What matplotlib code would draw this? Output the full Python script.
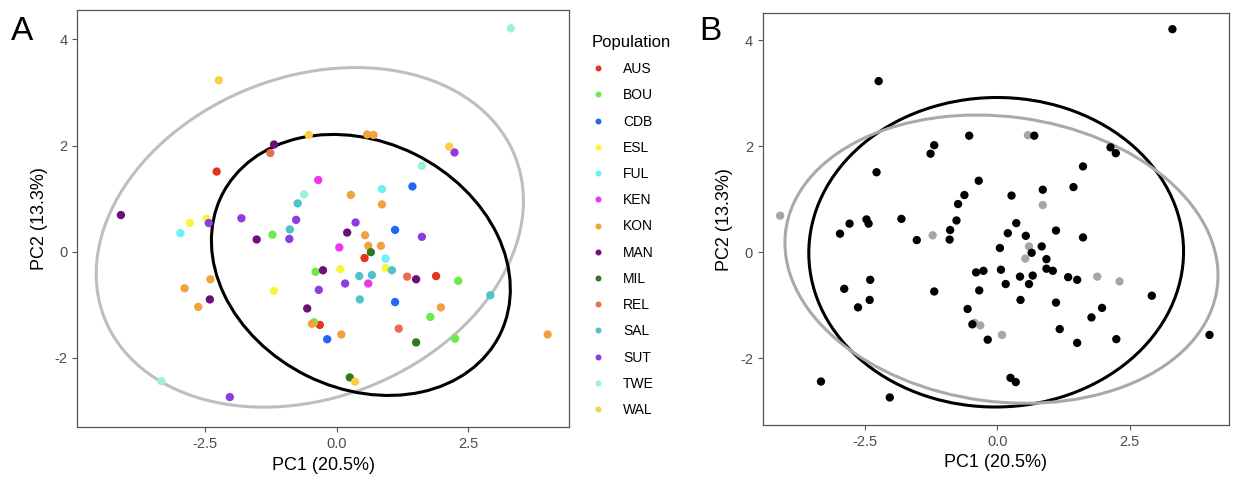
import numpy as np
import matplotlib
matplotlib.use("Agg")
import matplotlib.pyplot as plt
from matplotlib.patches import Ellipse
from matplotlib.lines import Line2D

plt.rcParams['font.family'] = ['Liberation Sans', 'DejaVu Sans']
plt.rcParams['axes.unicode_minus'] = False

# PCA scores per individual, grouped by population
populations = ['AUS', 'BOU', 'CDB', 'ESL', 'FUL', 'KEN', 'KON',
               'MAN', 'MIL', 'REL', 'SAL', 'SUT', 'TWE', 'WAL']
pop_colors = ['#E8321E', '#6CEB48', '#2266F2', '#FAF53C', '#6AF2F6', '#EE34EE', '#F2A23C',
              '#6E0F78', '#2E7A1E', '#EE6A50', '#50C2CC', '#8E3CE0', '#98F4D4', '#F8D042']

pop = (['AUS'] * 4 + ['BOU'] * 6 + ['CDB'] * 4 + ['ESL'] * 5 + ['FUL'] * 3 + ['KEN'] * 3
       + ['KON'] * 14 + ['MAN'] * 8 + ['MIL'] * 3 + ['REL'] * 3 + ['SAL'] * 7
       + ['SUT'] * 10 + ['TWE'] * 4 + ['WAL'] * 4)

pc1 = [-2.28, -0.32, 0.53, 1.89,
       -1.22, -0.40, -0.43, 2.31, 1.78, 2.25,
       1.44, 1.11, 1.11, -0.18,
       -2.79, -2.47, -1.19, 0.07, 0.93,
       -2.97, 0.86, 0.93,
       -0.35, 0.05, 0.60,
       0.58, 0.70, 0.27, 0.86, 0.54, 0.60, 0.84, -2.40, -2.89, -2.63, -0.47, 0.09, 1.98, 4.01,
       -4.10, -1.19, -1.52, 0.20, -0.26, 1.51, -2.41, -0.56,
       0.65, 1.51, 0.25,
       -1.26, 1.34, 1.18,
       -0.74, -0.89, 0.43, 0.67, 1.05, 0.44, 2.92,
       -2.43, -1.81, -0.77, -0.90, -0.34, 0.16, 0.36, 1.62, 2.24, -2.03,
       3.31, -0.62, 1.62, -3.33,
       -2.24, -0.53, 2.14, 0.35]

pc2 = [1.51, -1.38, -0.12, -0.46,
       0.32, -0.38, -1.33, -0.55, -1.23, -1.64,
       1.23, 0.41, -0.95, -1.65,
       0.54, 0.62, -0.74, -0.33, -0.31,
       0.35, 1.18, -0.13,
       1.35, 0.08, -0.60,
       2.21, 2.20, 1.07, 0.89, 0.31, 0.11, 0.11, -0.52, -0.69, -1.04, -1.36, -1.56, -1.05, -1.56,
       0.69, 2.02, 0.23, 0.36, -0.35, -0.52, -0.90, -1.07,
       -0.01, -1.71, -2.37,
       1.86, -0.47, -1.45,
       0.91, 0.42, -0.46, -0.44, -0.35, -0.90, -0.82,
       0.54, 0.63, 0.60, 0.24, -0.72, -0.60, 0.55, 0.28, 1.87, -2.74,
       4.21, 1.08, 1.62, -2.44,
       3.23, 2.20, 1.98, -2.45]

# second grouping used in panel B (1 = grey)
group_b = [0, 1, 1, 1,
           1, 0, 1, 1, 0, 0,
           0, 0, 0, 0,
           0, 0, 0, 0, 0,
           0, 0, 0,
           0, 0, 0,
           1, 0, 0, 1, 0, 1, 0, 0, 0, 0, 0, 1, 0, 0,
           1, 0, 0, 0, 0, 0, 0, 0,
           0, 0, 0,
           0, 0, 0,
           0, 0, 0, 0, 0, 0, 0,
           0, 0, 0, 0, 0, 0, 0, 0, 0, 0,
           0, 0, 0, 0,
           0, 0, 0, 0]

# ellipses: centre (x, y) and covariance (sxx, syy, sxy)
ell_a_black = [(0.46, -0.25), (8.07, 6.05, -1.30)]
ell_a_grey = [(-0.51, 0.27), (16.48, 10.24, 2.79)]
ell_b_black = [(-0.02, 0.0), (12.53, 8.53, 0.05)]
ell_b_grey = [(0.08, -0.13), (16.73, 7.40, -1.26)]


def draw_ellipse(ax, spec, color):
    (cx, cy), (sxx, syy, sxy) = spec
    cov = np.array([[sxx, sxy], [sxy, syy]])
    vals, vecs = np.linalg.eigh(cov)
    angle = np.degrees(np.arctan2(vecs[1, 1], vecs[0, 1]))
    e = Ellipse((cx, cy), 2 * np.sqrt(vals[1]), 2 * np.sqrt(vals[0]), angle=angle,
                fill=False, edgecolor=color, linewidth=2.2, zorder=2)
    ax.add_patch(e)


def style_axes(ax, xlim, ylim):
    ax.set_xlim(*xlim)
    ax.set_ylim(*ylim)
    ax.set_xticks([-2.5, 0.0, 2.5])
    ax.set_xticklabels(['-2.5', '0.0', '2.5'])
    ax.set_yticks([-2, 0, 2, 4])
    for s in ax.spines.values():
        s.set_color('#555555')
        s.set_linewidth(0.9)
    ax.tick_params(colors='#333333', labelcolor='#4D4D4D', labelsize=10.5,
                   length=3.5, width=0.8, color='#555555')
    ax.set_xlabel('PC1 (20.5%)', fontsize=13, color='black', labelpad=4)
    ax.set_ylabel('PC2 (13.3%)', fontsize=13, color='black', labelpad=5)


fig = plt.figure(figsize=(12.38, 4.8), dpi=100)

# panel A: coloured by population
ax1 = fig.add_axes([0.0624, 0.1098, 0.3974, 0.8688])
color_map = dict(zip(populations, pop_colors))
ax1.scatter(pc1, pc2, c=[color_map[p] for p in pop], s=36, linewidths=0, zorder=3)
draw_ellipse(ax1, ell_a_grey, '#BEBEBE')
draw_ellipse(ax1, ell_a_black, 'black')
style_axes(ax1, (-4.93, 4.42), (-3.31, 4.55))

handles = [Line2D([], [], marker='o', linestyle='', markersize=4.3, markerfacecolor=c,
                  markeredgewidth=0) for c in pop_colors]
leg = fig.legend(handles, populations, title='Population', loc='upper left',
                 bbox_to_anchor=(0.473, 0.939), frameon=False, fontsize=10,
                 title_fontsize=12, labelspacing=0.88, handletextpad=1.3,
                 handlelength=1.0, borderaxespad=0)
leg._legend_box.align = 'left'

# panel B: two groups in black and grey
ax2 = fig.add_axes([0.6161, 0.1146, 0.3767, 0.8577])
colors_b = ['#A6A6A6' if g else 'black' for g in group_b]
ax2.scatter(pc1, pc2, c=colors_b, s=36, linewidths=0, zorder=3)
draw_ellipse(ax2, ell_b_black, 'black')
draw_ellipse(ax2, ell_b_grey, '#A9A9A9')
style_axes(ax2, (-4.43, 4.38), (-3.26, 4.51))

fig.text(0.009, 0.917, 'A', fontsize=24)
fig.text(0.565, 0.917, 'B', fontsize=24)

fig.savefig('out.png', dpi=100)
